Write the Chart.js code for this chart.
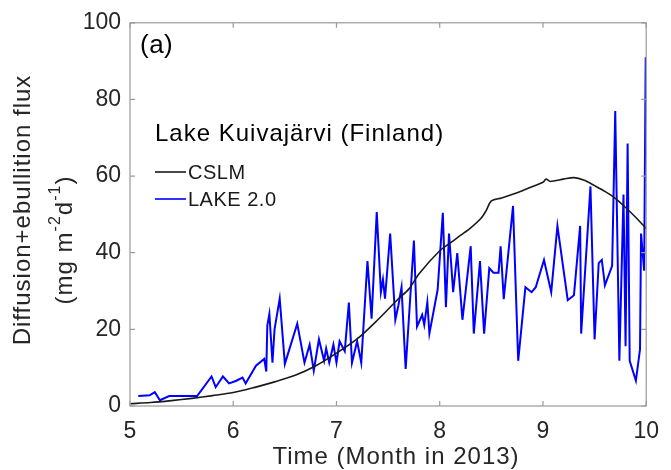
<!DOCTYPE html>
<html>
<head>
<meta charset="utf-8">
<script src="https://cdn.jsdelivr.net/npm/chart.js@4"></script>
<style>
html,body{margin:0;padding:0;background:#fff;}
#wrap{width:671px;height:470px;position:relative;}
</style>
</head>
<body>
<div id="wrap"><canvas id="c" width="671" height="470"></canvas></div>
<script>
// Tick labels
const xTicks = [5, 6, 7, 8, 9, 10];
const yTicks = [0, 20, 40, 60, 80, 100];

// CSLM (black) - month, flux
const cslmMonth = [5.0, 5.2, 5.4, 5.6, 5.8, 6.0, 6.2, 6.4, 6.6, 6.8, 7.0, 7.2, 7.4, 7.6, 7.7, 7.8, 8.0, 8.1, 8.2, 8.3, 8.4, 8.45, 8.5, 8.6, 8.7, 8.8, 8.9, 9.0, 9.03, 9.07, 9.2, 9.3, 9.4, 9.5, 9.6, 9.7, 9.8, 9.9, 10.0];
const cslmFlux  = [0.6, 0.9, 1.4, 2.0, 2.7, 3.5, 4.8, 6.3, 8.0, 10.5, 13.8, 17.5, 22.5, 28.0, 30.5, 34.5, 40.5, 42.5, 44.5, 46.5, 49.0, 51.0, 53.5, 54.3, 55.2, 56.2, 57.3, 58.4, 59.2, 58.6, 59.2, 59.6, 58.9, 57.5, 56.0, 54.2, 51.8, 49.2, 46.3];

// LAKE 2.0 (blue) - month, flux
const lakeMonth = [5.08, 5.19, 5.24, 5.29, 5.38, 5.65, 5.79, 5.83, 5.90, 5.96, 6.03, 6.09, 6.12, 6.22, 6.30, 6.32, 6.33, 6.35, 6.38, 6.40, 6.45, 6.50, 6.62, 6.69, 6.74, 6.78, 6.83, 6.88, 6.90, 6.93, 6.97, 7.00, 7.03, 7.08, 7.12, 7.15, 7.20, 7.24, 7.30, 7.34, 7.39, 7.43, 7.45, 7.47, 7.52, 7.57, 7.60, 7.63, 7.67, 7.75, 7.78, 7.83, 7.85, 7.88, 7.90, 7.98, 8.03, 8.06, 8.09, 8.13, 8.17, 8.22, 8.30, 8.33, 8.39, 8.43, 8.48, 8.52, 8.57, 8.59, 8.62, 8.71, 8.76, 8.83, 8.89, 8.93, 9.01, 9.08, 9.14, 9.24, 9.30, 9.36, 9.37, 9.46, 9.50, 9.54, 9.57, 9.60, 9.67, 9.70, 9.74, 9.78, 9.80, 9.82, 9.84, 9.90, 9.94, 9.95, 9.98, 9.995, 10.0];
const lakeFlux  = [2.6, 2.8, 3.6, 1.5, 2.6, 2.6, 7.7, 4.9, 7.7, 5.9, 6.6, 7.4, 5.9, 10.5, 12.3, 9.0, 21.0, 24.0, 11.3, 20.0, 28.0, 11.0, 21.5, 11.3, 16.0, 9.2, 17.4, 11.8, 15.0, 11.3, 16.0, 11.3, 16.9, 14.3, 27.0, 11.3, 16.9, 11.3, 37.8, 22.8, 50.6, 29.7, 33.0, 28.0, 45.0, 22.5, 26.3, 31.0, 9.7, 43.2, 20.7, 23.8, 21.2, 27.1, 18.9, 30.4, 50.4, 25.8, 45.0, 29.7, 39.9, 22.5, 41.7, 18.9, 37.8, 18.9, 36.0, 34.8, 34.8, 41.7, 27.9, 52.2, 11.8, 31.0, 29.7, 31.0, 38.1, 29.7, 47.0, 27.6, 28.9, 47.0, 18.9, 57.3, 17.4, 37.3, 38.1, 31.5, 36.6, 77.0, 11.8, 55.2, 15.6, 68.5, 11.8, 6.6, 14.8, 45.0, 35.3, 91.0, 74.0];

const toPts = (xs, ys) => xs.map((x, i) => ({x: x, y: ys[i]}));

const FONT = '"Liberation Sans", Arial, Helvetica, sans-serif';
const TXT = '#262626';

const decor = {
  id: 'decor',
  afterDraw(chart) {
    const ctx = chart.ctx;
    const a = chart.chartArea;
    const xs = chart.scales.x, ys = chart.scales.y;
    ctx.save();
    // axis box
    ctx.strokeStyle = '#9a9a9a';
    ctx.lineWidth = 1.2;
    ctx.strokeRect(a.left, a.top, a.right - a.left, a.bottom - a.top);
    // inward ticks
    const tl = 5;
    ctx.beginPath();
    xTicks.forEach(v => {
      const px = xs.getPixelForValue(v);
      ctx.moveTo(px, a.bottom); ctx.lineTo(px, a.bottom - tl);
      ctx.moveTo(px, a.top); ctx.lineTo(px, a.top + tl);
    });
    yTicks.forEach(v => {
      const py = ys.getPixelForValue(v);
      ctx.moveTo(a.left, py); ctx.lineTo(a.left + tl, py);
      ctx.moveTo(a.right, py); ctx.lineTo(a.right - tl, py);
    });
    ctx.stroke();

    ctx.fillStyle = '#000';
    ctx.textBaseline = 'middle';
    ctx.textAlign = 'left';
    // panel label
    ctx.font = '26px ' + FONT;
    ctx.letterSpacing = '0.5px';
    ctx.fillText('(a)', 140, 46);
    // legend title
    ctx.font = '24px ' + FONT;
    ctx.letterSpacing = '1px';
    ctx.fillText('Lake Kuivajärvi (Finland)', 155, 134);
    // legend entries
    ctx.font = '20px ' + FONT;
    ctx.letterSpacing = '0.5px';
    ctx.lineWidth = 1.6;
    ctx.strokeStyle = '#1a1a1a';
    ctx.beginPath(); ctx.moveTo(155, 172); ctx.lineTo(186, 172); ctx.stroke();
    ctx.fillStyle = '#1a1a1a';
    ctx.fillText('CSLM', 188, 173);
    ctx.strokeStyle = '#0000ff';
    ctx.beginPath(); ctx.moveTo(155, 199); ctx.lineTo(186, 199); ctx.stroke();
    ctx.fillText('LAKE 2.0', 188, 200);

    // x title
    ctx.fillStyle = TXT;
    ctx.font = '24px ' + FONT;
    ctx.letterSpacing = '1px';
    ctx.textAlign = 'center';
    ctx.fillText('Time (Month in 2013)', 396, 457);

    // y title (rotated)
    ctx.save();
    ctx.translate(23, 210);
    ctx.rotate(-Math.PI / 2);
    ctx.fillText('Diffusion+ebullition flux', 0, 0);
    ctx.restore();

    // second line with superscripts
    ctx.save();
    ctx.translate(65, 240);
    ctx.rotate(-Math.PI / 2);
    const big = '24px ' + FONT, small = '16px ' + FONT;
    const parts = [['(mg m', big, 0], ['-2', small, -9], ['d', big, 0], ['-1', small, -9], [')', big, 0]];
    let total = 0;
    parts.forEach(p => { ctx.font = p[1]; total += ctx.measureText(p[0]).width; });
    let x0 = -total / 2;
    ctx.textAlign = 'left';
    parts.forEach(p => {
      ctx.font = p[1];
      ctx.fillText(p[0], x0, p[2]);
      x0 += ctx.measureText(p[0]).width;
    });
    ctx.restore();
    ctx.restore();
  }
};

new Chart(document.getElementById('c'), {
  type: 'line',
  data: {
    datasets: [
      {
        label: 'CSLM',
        data: toPts(cslmMonth, cslmFlux),
        borderColor: '#1a1a1a',
        borderWidth: 1.6,
        pointRadius: 0,
        tension: 0.3,
        fill: false,
        order: 0
      },
      {
        label: 'LAKE 2.0',
        data: toPts(lakeMonth, lakeFlux),
        borderColor: '#0000ff',
        borderWidth: 2,
        pointRadius: 0,
        tension: 0,
        fill: false,
        order: 1
      }
    ]
  },
  options: {
    responsive: false,
    animation: false,
    layout: { padding: { top: 15, right: 16, left: 0, bottom: 0 } },
    plugins: { legend: { display: false }, tooltip: { enabled: false } },
    scales: {
      x: {
        type: 'linear',
        min: 5, max: 10,
        afterFit: s => { s.height = 64; },
        afterBuildTicks: s => { s.ticks = xTicks.map(v => ({value: v})); },
        grid: { display: false, drawTicks: false },
        border: { display: false },
        ticks: { color: TXT, font: { size: 23, family: FONT }, padding: 12, maxRotation: 0 }
      },
      y: {
        type: 'linear',
        min: 0, max: 100,
        afterFit: s => { s.width = 130; },
        afterBuildTicks: s => { s.ticks = yTicks.map(v => ({value: v})); },
        grid: { display: false, drawTicks: false },
        border: { display: false },
        ticks: { color: TXT, font: { size: 23, family: FONT }, padding: 9 }
      }
    }
  },
  plugins: [decor]
});
</script>
</body>
</html>
